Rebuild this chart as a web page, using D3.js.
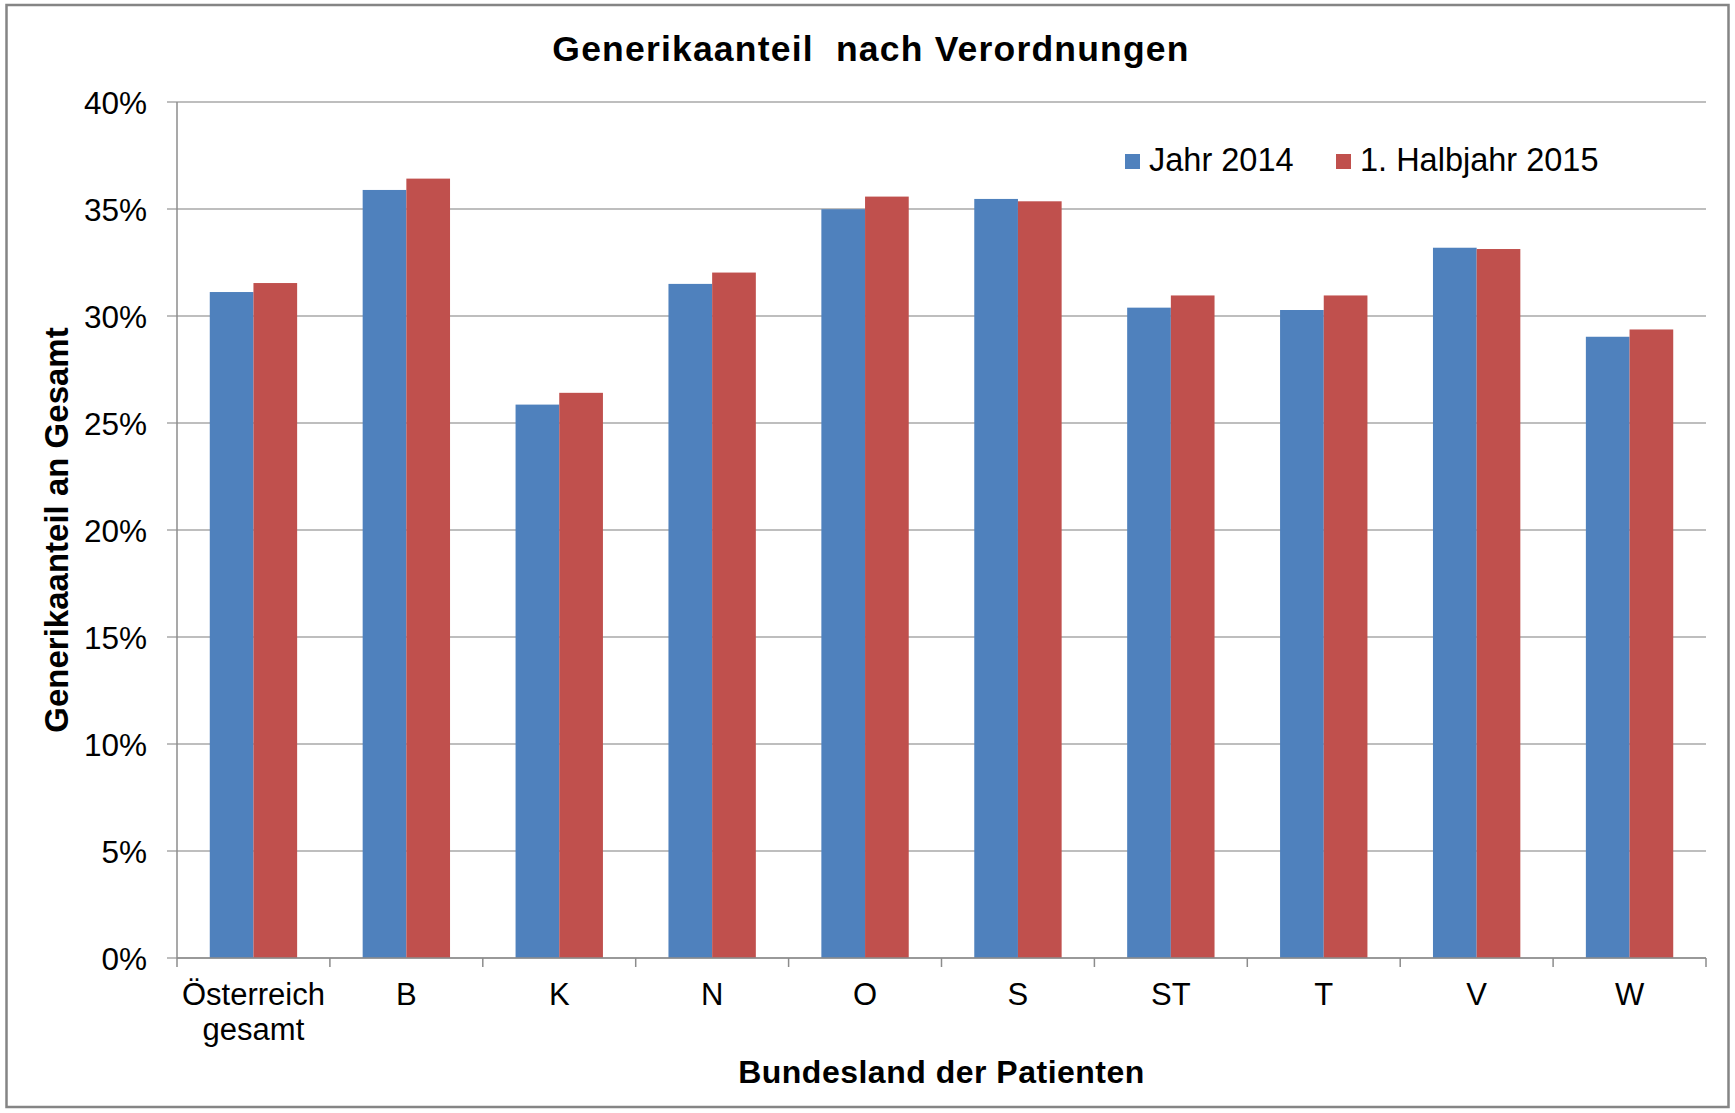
<!DOCTYPE html>
<html>
<head>
<meta charset="utf-8">
<script src="https://cdn.jsdelivr.net/npm/d3@7"></script>
<style>
  html, body { margin: 0; padding: 0; background: #fff; }
  svg { display: block; }
  text { font-family: Arial, "Liberation Sans", sans-serif; fill: #000; }
</style>
</head>
<body>
<script>
const categories = [["Österreich", "gesamt"], ["B"], ["K"], ["N"], ["O"], ["S"], ["ST"], ["T"], ["V"], ["W"]];
const seriesNames = ["Jahr 2014", "1. Halbjahr 2015"];
const jahr2014 = [0.3112, 0.3589, 0.2586, 0.3150, 0.3499, 0.3547, 0.3039, 0.3028, 0.3319, 0.2903];
const halbjahr2015 = [0.3154, 0.3642, 0.2641, 0.3203, 0.3558, 0.3536, 0.3096, 0.3096, 0.3313, 0.2937];
const yTicks = [0, 0.05, 0.10, 0.15, 0.20, 0.25, 0.30, 0.35, 0.40];
const colors = ["#4F81BD", "#C0504D"];

(function () {
const W = 1735, H = 1113;
const svg = d3.select("body").append("svg").attr("width", W).attr("height", H);

// outer border
svg.append("rect").attr("x", 6.5).attr("y", 5).attr("width", 1722).attr("height", 1102)
  .attr("fill", "#fff").attr("stroke", "#858585").attr("stroke-width", 2.5);

const pLeft = 177, pRight = 1706, pTop = 102, pBottom = 958;
const keys = categories.map(c => c.join(" "));
const x = d3.scaleBand().domain(keys).range([pLeft, pRight]).padding(0);
const y = d3.scaleLinear().domain([0, 0.4]).range([pBottom, pTop]);
const bw = x.bandwidth();
const barW = bw / 3.5;
const x1 = d3.scaleBand().domain([0, 1]).range([barW * 0.75, barW * 2.75]).padding(0);

// gridlines
svg.append("g").selectAll("line").data(yTicks).join("line")
  .attr("x1", pLeft - 10).attr("x2", pRight)
  .attr("y1", d => y(d)).attr("y2", d => y(d))
  .attr("stroke", "#a9a9a9").attr("stroke-width", 1.5);

// bars
const data = [jahr2014, halbjahr2015];
keys.forEach((k, i) => {
  data.forEach((s, j) => {
    svg.append("rect")
      .attr("x", x(k) + x1(j))
      .attr("y", y(s[i]))
      .attr("width", x1.bandwidth())
      .attr("height", y(0) - y(s[i]))
      .attr("fill", colors[j]);
  });
});

// y axis
const yAxis = d3.axisLeft(y).tickValues(yTicks).tickFormat(d => Math.round(d * 100) + "%").tickSize(0).tickPadding(30);
const gy = svg.append("g").attr("transform", `translate(${pLeft},0)`).call(yAxis);
gy.select(".domain").remove();
gy.selectAll("text").style("font-size", "31.5px").attr("font-family", null).attr("fill", "#000").attr("dy", "0.36em");
svg.append("line").attr("x1", pLeft).attr("x2", pLeft).attr("y1", pTop).attr("y2", pBottom)
  .attr("stroke", "#8c8c8c").attr("stroke-width", 1.5);

// x axis
svg.append("line").attr("x1", pLeft).attr("x2", pRight).attr("y1", pBottom).attr("y2", pBottom)
  .attr("stroke", "#8c8c8c").attr("stroke-width", 1.5);
const bounds = keys.map(k => x(k)).concat([pRight]);
svg.append("g").selectAll("line").data(bounds).join("line")
  .attr("x1", d => d).attr("x2", d => d).attr("y1", pBottom).attr("y2", pBottom + 9)
  .attr("stroke", "#8c8c8c").attr("stroke-width", 1.5);
const xl = svg.append("g").selectAll("text").data(categories).join("text")
  .attr("x", (d, i) => x(keys[i]) + bw / 2)
  .attr("y", 1005)
  .attr("text-anchor", "middle")
  .style("font-size", "31px");
xl.each(function(d) {
  const t = d3.select(this);
  d.forEach((line, li) => {
    t.append("tspan").attr("x", t.attr("x")).attr("dy", li === 0 ? 0 : 35).text(line);
  });
});

// title
svg.append("text").attr("x", 871).attr("y", 61).attr("text-anchor", "middle")
  .style("font-size", "35.5px").style("font-weight", "bold").style("letter-spacing", "1.2px")
  .style("white-space", "pre")
  .text("Generikaanteil  nach Verordnungen");

// axis titles
svg.append("text").attr("x", (pLeft + pRight) / 2).attr("y", 1083).attr("text-anchor", "middle")
  .style("font-size", "32px").style("font-weight", "bold").style("letter-spacing", "0.5px")
  .text("Bundesland der Patienten");
svg.append("text").attr("transform", `translate(68,${(pTop + pBottom) / 2}) rotate(-90)`)
  .attr("text-anchor", "middle")
  .style("font-size", "33px").style("font-weight", "bold")
  .text("Generikaanteil an Gesamt");

// legend
const legX = [1125, 1336];
seriesNames.forEach((n, i) => {
  svg.append("rect").attr("x", legX[i]).attr("y", 154).attr("width", 15).attr("height", 15).attr("fill", colors[i]);
  svg.append("text").attr("x", legX[i] + 24).attr("y", 171).style("font-size", "32.5px").text(n);
});
})();
</script>
</body>
</html>
